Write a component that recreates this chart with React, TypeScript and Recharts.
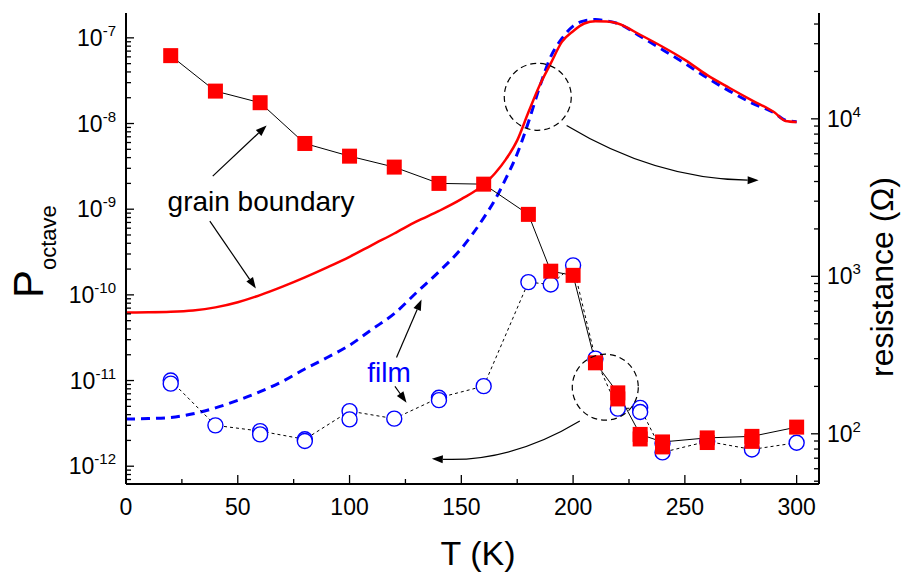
import { ComposedChart, Line, XAxis, YAxis, ReferenceLine, ReferenceDot } from "recharts";

const FONT = '"Liberation Sans", Arial, Helvetica, sans-serif';

// resistance curves, right axis (Ohm)
const RES_T = [0, 10, 20, 30, 40, 50, 60, 70, 80, 90, 100, 110, 120, 130, 140, 150, 160, 165, 170, 175, 180, 185, 190, 195, 200, 205, 210, 215, 220, 230, 240, 250, 260, 270, 280, 290, 295, 300];
const GB_RES = [590, 591, 595, 607, 635, 685, 760, 860, 985, 1140, 1330, 1580, 1870, 2230, 2600, 3090, 3820, 4500, 5550, 7300, 11000, 16300, 22500, 30800, 36000, 40300, 41600, 41500, 40300, 34200, 28700, 23700, 18950, 15700, 13100, 11000, 9700, 9550];
const FILM_RES = [124, 125, 127, 134, 146, 163, 185, 215, 258, 305, 365, 460, 580, 790, 1070, 1500, 2350, 3050, 4200, 6000, 9500, 15900, 24800, 32400, 38800, 41900, 42700, 41900, 40300, 33500, 27500, 22500, 18200, 15000, 12600, 10900, 9800, 9600];

// noise power, left axis
const GB_T = [20, 40, 60, 80, 100, 120, 140, 160, 180, 190, 200, 210, 220, 230, 240, 260, 280, 300];
const GB_P = [6.2e-8, 2.39e-8, 1.75e-8, 5.85e-9, 4.16e-9, 3.1e-9, 2.0e-9, 1.96e-9, 8.7e-10, 1.89e-10, 1.69e-10, 1.61e-11, 7.18e-12, 2.35e-12, 1.92e-12, 2.14e-12, 2.23e-12, 2.86e-12];
const GB2_T = [220, 230, 240, 260, 280];
const GB2_P = [6.1e-12, 2.08e-12, 1.68e-12, 1.89e-12, 1.95e-12];

const FILM_T = [20, 40, 60, 80, 100, 120, 140, 160, 180, 190, 200, 210, 220, 230, 240, 260, 280, 300];
const FILM_P = [1.0e-11, 3.0e-12, 2.57e-12, 2.06e-12, 4.4e-12, 3.59e-12, 6.3e-12, 8.6e-12, 1.41e-10, 1.32e-10, 2.21e-10, 1.8e-11, 4.7e-12, 4.8e-12, 1.45e-12, 1.95e-12, 1.57e-12, 1.88e-12];
const FILM2_T = [20, 60, 80, 100, 140, 230, 240];
const FILM2_P = [9.2e-12, 2.35e-12, 1.97e-12, 3.52e-12, 5.9e-12, 4.3e-12, 1.85e-12];

// axes
const X_DOMAIN = [0, 310];
const X_MAJOR = [0, 50, 100, 150, 200, 250, 300];
const X_MINOR = [25, 75, 125, 175, 225, 275];
const LEFT_DOMAIN = [6.2e-13, 1.95e-7];
const LEFT_DECADES = [1e-13, 1e-12, 1e-11, 1e-10, 1e-9, 1e-8, 1e-7];
const RIGHT_DOMAIN = [48, 47000];
const RIGHT_DECADES = [1e1, 1e2, 1e3, 1e4];

const gbCurve = RES_T.map((T, i) => ({ T, v: GB_RES[i] }));
const filmCurve = RES_T.map((T, i) => ({ T, v: FILM_RES[i] }));
const gbPts = GB_T.map((T, i) => ({ T, v: GB_P[i] }));
const gbPts2 = GB2_T.map((T, i) => ({ T, v: GB2_P[i] }));
const filmPts = FILM_T.map((T, i) => ({ T, v: FILM_P[i] }));
const filmPts2 = FILM2_T.map((T, i) => ({ T, v: FILM2_P[i] }));

function logTicks(decades: number[], dom: number[]) {
  const out: number[] = [];
  decades.forEach((d) => {
    for (let m = 1; m <= 9; m++) {
      const v = m * d;
      if (v >= dom[0] && v <= dom[1]) out.push(v);
    }
  });
  return out;
}
const leftTicks = logTicks(LEFT_DECADES, LEFT_DOMAIN);
const rightTicks = logTicks(RIGHT_DECADES, RIGHT_DOMAIN);
const xTicks = [...X_MAJOR, ...X_MINOR].sort((a, b) => a - b);

const isDecade = (v: number) => {
  const l = Math.log10(v);
  return Math.abs(l - Math.round(l)) < 1e-6;
};

const Pow = ({ x, y, v, anchor }: any) => (
  <text x={x} y={y} textAnchor={anchor} fontSize={23} fontFamily={FONT} fill="#000">
    10<tspan dy={-10} fontSize={15}>{Math.round(Math.log10(v))}</tspan>
  </text>
);

const LeftTick = (p: any) => {
  const { x, y, payload } = p;
  const major = isDecade(payload.value);
  return (
    <g>
      <line x1={x} x2={x + (major ? 8 : 5)} y1={y} y2={y} stroke="#000" strokeWidth={1.3} />
      {major && <Pow x={x - 10} y={y + 8} v={payload.value} anchor="end" />}
    </g>
  );
};

const RightTick = (p: any) => {
  const { x, y, payload } = p;
  const major = isDecade(payload.value);
  return (
    <g>
      <line x1={x} x2={x - (major ? 8 : 5)} y1={y} y2={y} stroke="#000" strokeWidth={1.3} />
      {major && <Pow x={x + 8} y={y + 8} v={payload.value} anchor="start" />}
    </g>
  );
};

const BottomTick = (p: any) => {
  const { x, y, payload } = p;
  const major = X_MAJOR.includes(payload.value);
  return (
    <g>
      <line x1={x} x2={x} y1={y} y2={y - (major ? 9 : 5)} stroke="#000" strokeWidth={1.3} />
      {major && (
        <text x={x} y={y + 31} textAnchor="middle" fontSize={23} fontFamily={FONT} fill="#000">
          {payload.value}
        </text>
      )}
    </g>
  );
};

const TopTick = (p: any) => {
  const { x, y, payload } = p;
  const major = X_MAJOR.includes(payload.value);
  return <line x1={x} x2={x} y1={y} y2={y + (major ? 8 : 6)} stroke="#000" strokeWidth={1.3} />;
};

const Square = (p: any) => {
  const { cx, cy, index } = p;
  if (cx == null || cy == null) return <g key={`s${index}`} />;
  return <rect key={`s${index}`} x={cx - 7.5} y={cy - 7.5} width={15} height={15} fill="#ff0000" />;
};

const Ring = (p: any) => {
  const { cx, cy, index } = p;
  if (cx == null || cy == null) return <g key={`c${index}`} />;
  return <circle key={`c${index}`} cx={cx} cy={cy} r={7.5} fill="#fff" stroke="#0000ff" strokeWidth={1.4} />;
};

// arrow from (x1,y1) to (x2,y2); bend bows the path sideways (px)
const arrow = (bend: number) => (p: any) => {
  const { x1, y1, x2, y2 } = p;
  const dx = x2 - x1;
  const dy = y2 - y1;
  const L = Math.hypot(dx, dy) || 1;
  const qx = (x1 + x2) / 2 - (dy / L) * bend;
  const qy = (y1 + y2) / 2 + (dx / L) * bend;
  const hl = Math.hypot(x2 - qx, y2 - qy) || 1;
  const ux = (x2 - qx) / hl;
  const uy = (y2 - qy) / hl;
  const bx = x2 - ux * 11;
  const by = y2 - uy * 11;
  return (
    <g>
      <path d={`M${x1},${y1} Q${qx},${qy} ${bx},${by}`} fill="none" stroke="#000" strokeWidth={1.2} />
      <path d={`M${x2},${y2} L${bx - uy * 4},${by + ux * 4} L${bx + uy * 4},${by - ux * 4} Z`} fill="#000" />
    </g>
  );
};

const dashedRing = (r: number) => (p: any) => (
  <circle cx={p.cx} cy={p.cy} r={r} fill="none" stroke="#000" strokeWidth={1.2} strokeDasharray="6 4" />
);

const label = (txt: string, color: string) => (p: any) => (
  <text x={p.cx} y={p.cy} fontSize={28} fontFamily={FONT} fill={color}>
    {txt}
  </text>
);

export default function App() {
  return (
    <div style={{ position: "absolute", left: 0, top: 0, width: 902, height: 573, background: "#fff" }}>
      <ComposedChart width={902} height={573} margin={{ top: 13, right: 0, bottom: 0, left: 0 }}>
        <XAxis
          dataKey="T"
          type="number"
          domain={X_DOMAIN}
          ticks={xTicks}
          interval={0}
          height={89}
          tickSize={0}
          tickMargin={0}
          tickLine={false}
          tick={BottomTick}
          axisLine={{ stroke: "#000", strokeWidth: 2 }}
          allowDataOverflow
        />
        <XAxis
          xAxisId="top"
          orientation="top"
          dataKey="T"
          type="number"
          domain={X_DOMAIN}
          ticks={xTicks}
          interval={0}
          height={0}
          tickSize={0}
          tickMargin={0}
          tickLine={false}
          tick={TopTick}
          axisLine={{ stroke: "#000", strokeWidth: 2 }}
          allowDataOverflow
        />
        <YAxis
          yAxisId="left"
          scale="log"
          type="number"
          domain={LEFT_DOMAIN}
          ticks={leftTicks}
          interval={0}
          width={126}
          tickSize={0}
          tickMargin={0}
          tickLine={false}
          tick={LeftTick}
          axisLine={{ stroke: "#000", strokeWidth: 2 }}
          allowDataOverflow
        />
        <YAxis
          yAxisId="right"
          orientation="right"
          scale="log"
          type="number"
          domain={RIGHT_DOMAIN}
          ticks={rightTicks}
          interval={0}
          width={83}
          tickSize={0}
          tickMargin={0}
          tickLine={false}
          tick={RightTick}
          axisLine={{ stroke: "#000", strokeWidth: 2 }}
          allowDataOverflow
        />

        <Line yAxisId="right" data={filmCurve} dataKey="v" type="monotone" stroke="#0000ff" strokeWidth={3} strokeDasharray="9 6" dot={false} activeDot={false} isAnimationActive={false} />
        <Line yAxisId="right" data={gbCurve} dataKey="v" type="monotone" stroke="#ff0000" strokeWidth={2.5} dot={false} activeDot={false} isAnimationActive={false} />

        <Line yAxisId="left" data={filmPts} dataKey="v" type="linear" stroke="#000" strokeWidth={1} strokeDasharray="3 3" dot={Ring} activeDot={false} isAnimationActive={false} />
        <Line yAxisId="left" data={filmPts2} dataKey="v" type="linear" stroke="none" dot={Ring} activeDot={false} isAnimationActive={false} />
        <Line yAxisId="left" data={gbPts} dataKey="v" type="linear" stroke="#000" strokeWidth={1} dot={Square} activeDot={false} isAnimationActive={false} />
        <Line yAxisId="left" data={gbPts2} dataKey="v" type="linear" stroke="none" dot={Square} activeDot={false} isAnimationActive={false} />

        <ReferenceDot yAxisId="left" x={184.2} y={2.05e-8} r={33} shape={dashedRing(33.5)} />
        <ReferenceDot yAxisId="left" x={214.4} y={8.36e-12} r={33} shape={dashedRing(33)} />

        <ReferenceLine yAxisId="left" segment={[{ x: 38.8, y: 2.43e-9 }, { x: 62.9, y: 9.5e-9 }]} shape={arrow(0)} />
        <ReferenceLine yAxisId="left" segment={[{ x: 37.5, y: 7.26e-10 }, { x: 58.1, y: 1.19e-10 }]} shape={arrow(0)} />
        <ReferenceLine yAxisId="left" segment={[{ x: 121, y: 1.86e-11 }, { x: 132.2, y: 8.85e-11 }]} shape={arrow(0)} />
        <ReferenceLine yAxisId="left" segment={[{ x: 120.3, y: 8.55e-12 }, { x: 125.5, y: 5.52e-12 }]} shape={arrow(0)} />
        <ReferenceLine yAxisId="left" segment={[{ x: 197.1, y: 9.48e-9 }, { x: 283, y: 2.17e-9 }]} shape={arrow(27)} />
        <ReferenceLine yAxisId="left" segment={[{ x: 203, y: 3.37e-12 }, { x: 136.8, y: 1.22e-12 }]} shape={arrow(-23)} />

        <ReferenceDot yAxisId="left" x={18.6} y={9.5e-10} r={1} shape={label("grain boundary", "#000")} />
        <ReferenceDot yAxisId="left" x={107.9} y={9.5e-12} r={1} shape={label("film", "#0000ff")} />
      </ComposedChart>
      <svg width={902} height={573} style={{ position: "absolute", left: 0, top: 0, pointerEvents: "none" }}>
        <text transform="translate(43,298) rotate(-90)" fontSize={42} fontFamily={FONT} fill="#000">
          P<tspan dy={13} fontSize={22}>octave</tspan>
        </text>
        <text x={478} y={565} textAnchor="middle" fontSize={34} fontFamily={FONT} fill="#000">
          T (K)
        </text>
        <text transform="translate(893,277) rotate(-90)" textAnchor="middle" fontSize={32} fontFamily={FONT} fill="#000">
          resistance (Ω)
        </text>
      </svg>
    </div>
  );
}
